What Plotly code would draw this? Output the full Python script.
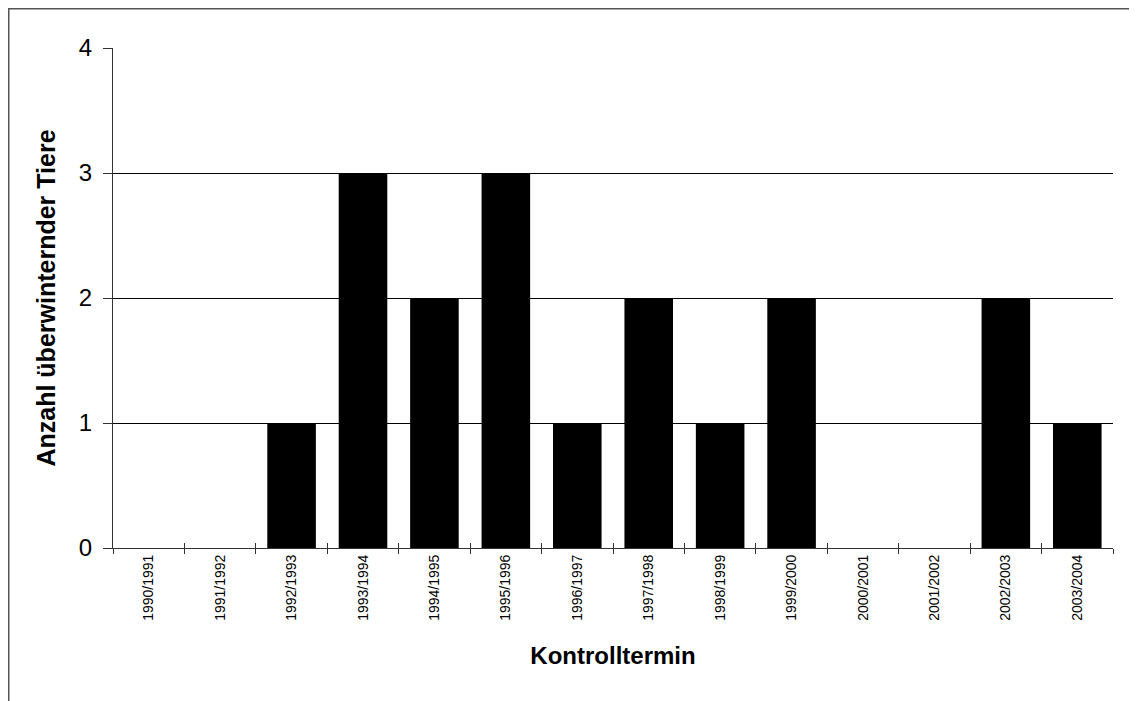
import plotly.graph_objects as go

categories = ["1990/1991", "1991/1992", "1992/1993", "1993/1994", "1994/1995",
              "1995/1996", "1996/1997", "1997/1998", "1998/1999", "1999/2000",
              "2000/2001", "2001/2002", "2002/2003", "2003/2004"]
values = [0, 0, 1, 3, 2, 3, 1, 2, 1, 2, 0, 0, 2, 1]
y_ticks = [0, 1, 2, 3, 4]

FONT = "Liberation Sans, Arial, sans-serif"

fig = go.Figure()
fig.add_trace(go.Bar(
    x=categories, y=values,
    marker=dict(color="black", line=dict(width=0)),
    xaxis="x", yaxis="y", hoverinfo="x+y", showlegend=False,
))
# invisible twin trace to carry inner half of the crossing x ticks
fig.add_trace(go.Bar(
    x=categories, y=values,
    marker=dict(color="rgba(0,0,0,0)", line=dict(width=0)),
    xaxis="x2", yaxis="y", hoverinfo="skip", showlegend=False,
))

fig.update_layout(
    width=1129, height=693,
    margin=dict(l=105, r=24, t=40, b=153),
    paper_bgcolor="white", plot_bgcolor="white",
    bargap=0.32,
    font=dict(family=FONT, color="black"),
    xaxis=dict(
        type="category", categoryorder="array", categoryarray=categories,
        tickson="boundaries", ticks="outside", ticklen=5, tickcolor="#333333",
        tickwidth=1, tickangle=-90, tickfont=dict(size=14, family=FONT),
        showline=True, linecolor="#333333", linewidth=1,
        showgrid=False, zeroline=False,
        title=dict(text="<b>Kontrolltermin</b>",
                   font=dict(size=24, family=FONT), standoff=27),
    ),
    xaxis2=dict(
        type="category", categoryorder="array", categoryarray=categories,
        overlaying="x", anchor="y", side="bottom", matches="x",
        tickson="boundaries", ticks="inside", ticklen=5, tickcolor="#333333",
        tickwidth=1, showticklabels=False, showline=False,
        showgrid=False, zeroline=False,
    ),
    yaxis=dict(
        range=[0, 4], tickvals=y_ticks, ticktext=[str(v) for v in y_ticks],
        ticks="outside", ticklen=9, tickcolor="#333333", tickwidth=1,
        tickfont=dict(size=24, family=FONT), ticklabelstandoff=6,
        showline=True, linecolor="#333333", linewidth=1,
        showgrid=True, gridcolor="black", gridwidth=1,
        zeroline=False,
        title=dict(text="<b>Anzahl überwinternder Tiere</b>",
                   font=dict(size=25, family=FONT), standoff=16),
    ),
    shapes=[dict(
        type="rect", xref="paper", yref="paper",
        x0=-0.1045, x1=1.2, y0=-0.6, y1=1.079,
        line=dict(color="#555555", width=2), fillcolor="rgba(0,0,0,0)",
        layer="below",
    )],
)

fig.write_html("out.html")
